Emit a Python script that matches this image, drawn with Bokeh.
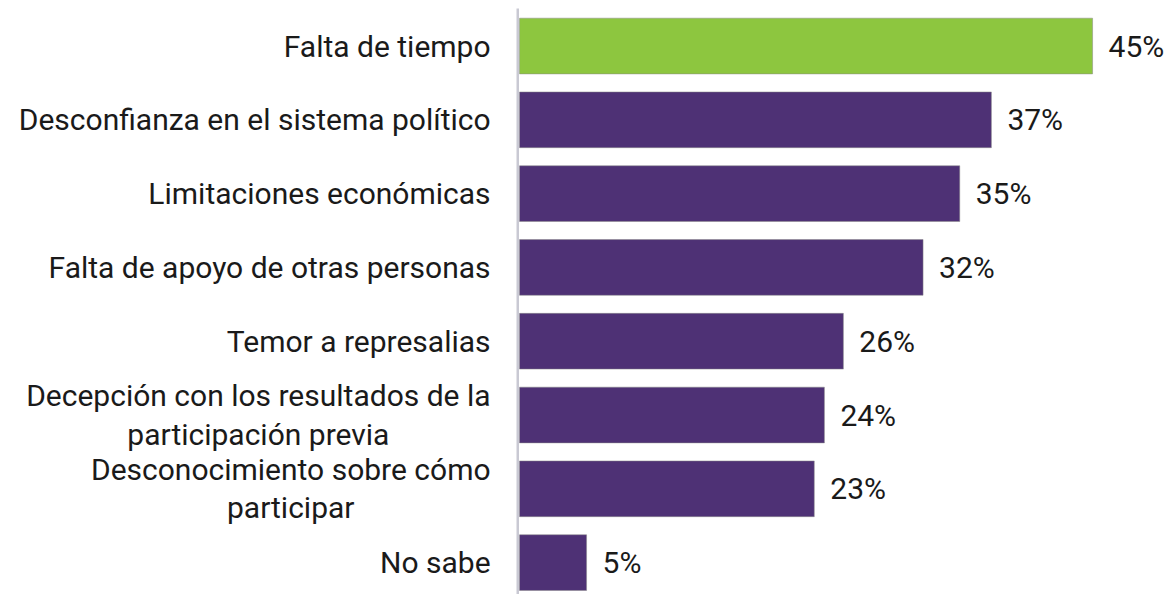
from bokeh.plotting import figure
from bokeh.models import ColumnDataSource, Range1d
from bokeh.core.properties import value
from bokeh.embed import file_html
from bokeh.resources import INLINE

categories = [
    "Falta de tiempo",
    "Desconfianza en el sistema político",
    "Limitaciones económicas",
    "Falta de apoyo de otras personas",
    "Temor a represalias",
    "Decepción con los resultados de la\nparticipación previa",
    "Desconocimiento sobre cómo\nparticipar",
    "No sabe",
]
# bar lengths (labels show them rounded)
values = [45.3, 37.3, 34.8, 31.9, 25.6, 24.1, 23.3, 5.3]
labels = ["45%", "37%", "35%", "32%", "26%", "24%", "23%", "5%"]
colors = ["#8DC63F"] + ["#4E3175"] * 7

pos = list(range(len(categories)))
src = ColumnDataSource(dict(
    y=pos, v=values, cat=categories, col=colors, lab=labels,
    lx=[-2.29] * len(values),
))

p = figure(width=1170, height=594, output_backend="svg", toolbar_location=None,
           x_range=Range1d(-41.03, 51.46), y_range=Range1d(7.432, -0.617),
           min_border=0, outline_line_color=None)
p.axis.visible = False
p.grid.visible = False
p.background_fill_color = "white"
p.border_fill_color = "white"

p.hbar(y="y", left=0, right="v", height=0.755, fill_color="col",
       line_color="#8a8a8a", line_alpha=0.5, line_width=1, source=src)

# vertical category axis line
p.segment(x0=[-0.14], y0=[-0.51], x1=[-0.14], y1=[7.6],
          line_color="#c9c9d3", line_width=2.5)

p.text(x="lx", y="y", text="cat", source=src, anchor=value("center_right"),
       text_align="center", text_baseline="middle",
       text_font=value("Roboto"), text_font_size="30px", text_color="#1a1a1a",
       text_line_height=1.09)

p.text(x="v", y="y", text="lab", source=src, x_offset=16,
       text_align="left", text_baseline="middle",
       text_font=value("Roboto"), text_font_size="30px", text_color="#1a1a1a")

open("out.html", "w").write(file_html(p, INLINE))
